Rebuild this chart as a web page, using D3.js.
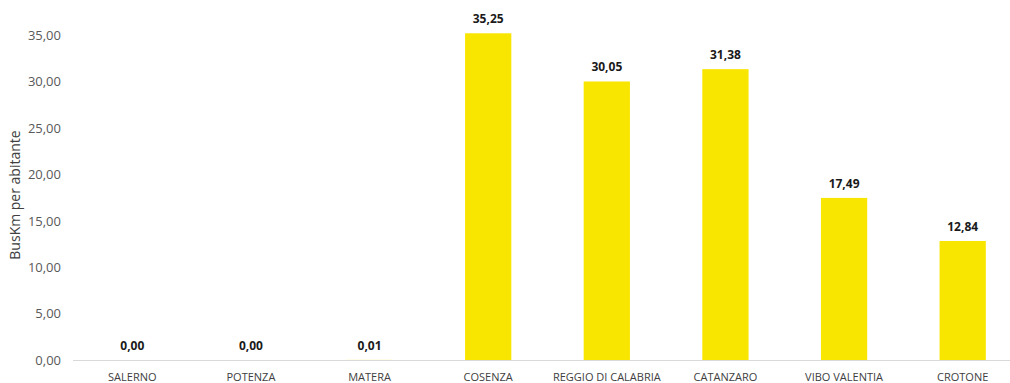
<!DOCTYPE html>
<html>
<head>
<meta charset="utf-8">
<script src="https://cdn.jsdelivr.net/npm/d3@7"></script>
<style>
  body { margin: 0; background: #fff; }
  text { font-family: "Open Sans", "Liberation Sans", sans-serif; }
</style>
</head>
<body>
<div id="chart"></div>
<script>
const categories = ["SALERNO", "POTENZA", "MATERA", "COSENZA", "REGGIO DI CALABRIA", "CATANZARO", "VIBO VALENTIA", "CROTONE"];
const values = [0.00, 0.00, 0.01, 35.25, 30.05, 31.38, 17.49, 12.84];
const yTicks = [0, 5, 10, 15, 20, 25, 30, 35];

const width = 1010, height = 383;
const fmt = v => v.toFixed(2).replace(".", ",");

const svg = d3.select("#chart").append("svg")
    .attr("width", width)
    .attr("height", height);

const x = d3.scaleBand()
    .domain(categories)
    .range([73, 1022])
    .paddingInner(0.61)
    .paddingOuter(0.305);

const y = d3.scaleLinear()
    .domain([0, 35])
    .range([360, 35.6]);

// y tick labels
svg.append("g")
    .selectAll("text")
    .data(yTicks)
    .enter()
    .append("text")
    .attr("x", 61)
    .attr("y", d => y(d))
    .attr("dy", "0.35em")
    .attr("text-anchor", "end")
    .style("font-size", "13px")
    .style("fill", "#595959")
    .text(d => fmt(d));

// axis title
svg.append("text")
    .attr("transform", "translate(20,195) rotate(-90)")
    .attr("text-anchor", "middle")
    .style("font-size", "14px")
    .style("fill", "#404040")
    .text("BusKm per abitante");

// bars
svg.append("g")
    .selectAll("rect")
    .data(values)
    .enter()
    .append("rect")
    .attr("x", (d, i) => x(categories[i]))
    .attr("y", d => y(d))
    .attr("width", x.bandwidth())
    .attr("height", d => y(0) - y(d))
    .attr("fill", "#F9E600");

// baseline
svg.append("line")
    .attr("x1", 73)
    .attr("x2", 1022)
    .attr("y1", y(0) + 0.5)
    .attr("y2", y(0) + 0.5)
    .attr("stroke", "#d9d9d9")
    .attr("stroke-width", 1);

// data labels
svg.append("g")
    .selectAll("text")
    .data(values)
    .enter()
    .append("text")
    .attr("x", (d, i) => x(categories[i]) + x.bandwidth() / 2)
    .attr("y", d => y(d) - 10)
    .attr("text-anchor", "middle")
    .style("font-size", "12px")
    .style("font-weight", "bold")
    .style("fill", "#1a1a1a")
    .text(d => fmt(d));

// category labels
svg.append("g")
    .selectAll("text")
    .data(categories)
    .enter()
    .append("text")
    .attr("x", d => x(d) + x.bandwidth() / 2)
    .attr("y", 381)
    .attr("text-anchor", "middle")
    .style("font-size", "11px")
    .style("fill", "#404040")
    .text(d => d);
</script>
</body>
</html>
